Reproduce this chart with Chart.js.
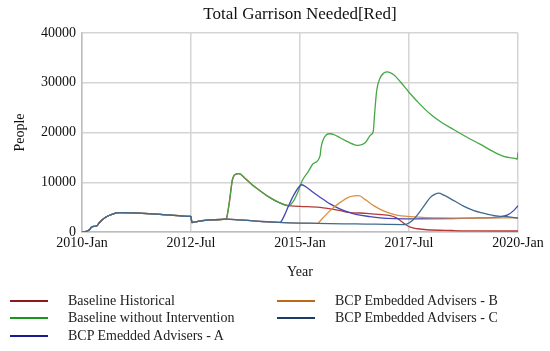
<!DOCTYPE html>
<html>
<head>
<meta charset="utf-8">
<script src="https://cdn.jsdelivr.net/npm/chart.js@4.4.0/dist/chart.umd.min.js"></script>
<style>
  html, body { margin: 0; padding: 0; background: #fff; }
  #wrap { position: relative; width: 550px; height: 351px; overflow: hidden; }
  #c { position: absolute; left: 0; top: 0; }
  .lg { position: absolute; font-family: "Liberation Serif", "Times New Roman", serif; font-size: 14px; color: #222; white-space: nowrap; line-height: 16px; }
  .sw { position: absolute; width: 38px; height: 2px; }
</style>
</head>
<body>
<div id="wrap">
  <canvas id="c" width="550" height="351"></canvas>
  <div id="legend"></div>
</div>
<script>
// ---- data (x = decimal year, y = people) ----
const seriesNames = ["Baseline Historical", "Baseline without Intervention", "BCP Emedded Advisers - A", "BCP Embedded Advisers - B", "BCP Embedded Advisers - C"];
const xTickYears = [2010, 2012.5, 2015, 2017.5, 2020];
const xTickLabels = ["2010-Jan", "2012-Jul", "2015-Jan", "2017-Jul", "2020-Jan"];
const yTicks = [0, 10000, 20000, 30000, 40000];

// shared history for all runs
const sharedStart = [[2010.0,0],[2010.1,150],[2010.17,440],[2010.22,1000],[2010.3,1150],[2010.35,1300],[2010.4,1900],[2010.55,3000],[2010.7,3600],[2010.86,3880],[2011.17,3840],[2011.86,3500],[2012.48,3150],[2012.5,3100],[2012.52,1900],[2012.7,2200],[2013.0,2450],[2013.3,2600]];
// shared slow decline after 2013.3 (intervention runs before they diverge)
const sharedTail = [[2013.6,2450],[2014.0,2200],[2014.5,1950],[2015.0,1800],[2015.4,1750],[2016.0,1650],[2016.5,1600],[2017.0,1530],[2017.4,1500]];

const greenRun = [[2013.32,2900],[2013.38,6000],[2013.45,10500],[2013.52,11600],[2013.6,11750],[2013.75,10700],[2013.93,9300],[2014.1,8200],[2014.31,6900],[2014.5,6000],[2014.73,5300],[2014.85,6200],[2014.95,8000],[2015.05,10300],[2015.2,12300],[2015.3,13700],[2015.46,15300],[2015.48,16800],[2015.52,18300],[2015.6,19500],[2015.69,19750],[2015.8,19500],[2015.92,18950],[2016.1,18100],[2016.34,17400],[2016.5,18000],[2016.62,19500],[2016.68,20200],[2016.71,23600],[2016.76,28500],[2016.84,31000],[2016.93,32000],[2017.0,32200],[2017.15,31600],[2017.3,30200],[2017.51,28000],[2017.75,25700],[2018.0,23600],[2018.25,22000],[2018.52,20600],[2018.8,19200],[2019.14,17600],[2019.4,16300],[2019.67,15200],[2019.85,14900],[2019.97,14700],[2019.98,14600],[2020.0,16000]];
const redTail = [[2014.8,5250],[2015.0,5150],[2015.46,4950],[2015.92,4300],[2016.11,3960],[2016.53,3760],[2016.8,3550],[2017.07,3300],[2017.2,2900],[2017.3,2300],[2017.42,1500],[2017.53,960],[2017.7,650],[2017.91,450],[2018.5,300],[2019.0,220],[2020.0,200]];
const aRun = [[2014.55,2000],[2014.65,3500],[2014.74,5300],[2014.85,7300],[2014.97,9000],[2015.04,9500],[2015.15,9000],[2015.3,8000],[2015.46,7000],[2015.7,5600],[2015.9,4700],[2016.11,4000],[2016.31,3500],[2016.6,3100],[2016.84,2850],[2017.2,2700],[2017.6,2650],[2018.5,2700],[2019.0,2800],[2019.4,2900],[2019.6,3050],[2019.75,3400],[2019.9,4300],[2020.0,5300]];
const bRun = [[2015.5,2600],[2015.69,4300],[2015.9,5800],[2016.11,6960],[2016.25,7250],[2016.35,7300],[2016.5,6500],[2016.69,5300],[2016.9,4300],[2017.07,3760],[2017.25,3350],[2017.45,3160],[2017.8,2950],[2018.22,2850],[2019.0,2800],[2020.0,2850]];
const cRun = [[2017.5,1800],[2017.6,2500],[2017.68,3300],[2017.85,5300],[2017.99,6960],[2018.1,7600],[2018.18,7800],[2018.3,7400],[2018.53,6300],[2018.75,5200],[2018.99,4300],[2019.2,3800],[2019.37,3440],[2019.55,3200],[2019.75,3100],[2019.95,2850],[2020.0,2800]];

const lineColors = ["#b43a3a", "#45a845", "#4545b8", "#d98f40", "#3f6a90"];
const legendColors = ["#8b1a1a", "#1a961a", "#1a1a96", "#c0681a", "#1a3c66"];

// ---- build series ----
function pts(arr) { return arr.map(p => ({x: p[0], y: p[1]})); }
function upTo(arr, x) { return arr.filter(p => p[0] <= x); }
const greenSeries = sharedStart.concat(greenRun);
const redSeries = sharedStart.concat(upTo(greenRun, 2014.73)).concat(redTail);
const aSeries = sharedStart.concat(upTo(sharedTail, 2014.5)).concat(aRun);
const bSeries = sharedStart.concat(upTo(sharedTail, 2015.4)).concat(bRun);
const cSeries = sharedStart.concat(sharedTail).concat(cRun);
const allSeries = [redSeries, greenSeries, aSeries, bSeries, cSeries];
const drawOrder = [5, 4, 3, 2, 1]; // higher drawn first (underneath)

const serif = "'Liberation Serif', 'Times New Roman', serif";

new Chart(document.getElementById('c'), {
  type: 'line',
  data: {
    datasets: allSeries.map((s, i) => ({
      label: seriesNames[i],
      data: pts(s),
      borderColor: lineColors[i],
      borderWidth: 1.3,
      pointRadius: 0,
      tension: 0,
      cubicInterpolationMode: 'monotone',
      fill: false,
      order: drawOrder[i]
    }))
  },
  options: {
    responsive: false,
    animation: false,
    layout: { padding: { left: 0, right: 32, top: 0, bottom: 0 } },
    plugins: {
      legend: { display: false },
      tooltip: { enabled: false },
      title: {
        display: true,
        text: 'Total Garrison Needed[Red]',
        fullSize: false,
        color: '#111',
        font: { family: serif, size: 17, weight: 'normal', lineHeight: 1.2 },
        padding: { top: 4, bottom: 8.6 }
      }
    },
    scales: {
      x: {
        type: 'linear',
        min: 2010, max: 2020,
        afterBuildTicks: (s) => { s.ticks = xTickYears.map(v => ({value: v})); },
        afterFit: (s) => { s.height = 119; },
        ticks: {
          color: '#111',
          font: { family: serif, size: 14 },
          padding: 3,
          maxRotation: 0,
          autoSkip: false,
          callback: (v) => { const i = xTickYears.indexOf(v); return i >= 0 ? xTickLabels[i] : ''; }
        },
        grid: { color: '#d4d4d4', lineWidth: 1.5, drawTicks: false },
        border: { color: '#bdbdbd', width: 1.5 },
        title: { display: true, text: 'Year', color: '#111', font: { family: serif, size: 14 }, padding: { top: 0, bottom: 70 } }
      },
      y: {
        min: 0, max: 40000,
        afterBuildTicks: (s) => { s.ticks = yTicks.map(v => ({value: v})); },
        afterFit: (s) => { s.width = 82; },
        ticks: { color: '#111', font: { family: serif, size: 14 }, padding: 6, callback: (v) => String(v) },
        grid: { color: '#d4d4d4', lineWidth: 1.5, drawTicks: false },
        border: { color: '#bdbdbd', width: 1.5 },
        title: { display: true, text: 'People', color: '#111', font: { family: serif, size: 14 }, padding: { top: 12, bottom: 0 } }
      }
    }
  }
});

// ---- HTML legend (two columns, column-major) ----
const legendPos = [
  {sx: 10, tx: 68, y: 301},
  {sx: 10, tx: 68, y: 318},
  {sx: 10, tx: 68, y: 336},
  {sx: 277, tx: 335, y: 301},
  {sx: 277, tx: 335, y: 318}
];
const lg = document.getElementById('legend');
seriesNames.forEach((name, i) => {
  const p = legendPos[i];
  const sw = document.createElement('div');
  sw.className = 'sw';
  sw.style.left = p.sx + 'px';
  sw.style.top = (p.y - 1) + 'px';
  sw.style.background = legendColors[i];
  lg.appendChild(sw);
  const t = document.createElement('div');
  t.className = 'lg';
  t.style.left = p.tx + 'px';
  t.style.top = (p.y - 8) + 'px';
  t.textContent = name;
  lg.appendChild(t);
});
</script>
</body>
</html>
